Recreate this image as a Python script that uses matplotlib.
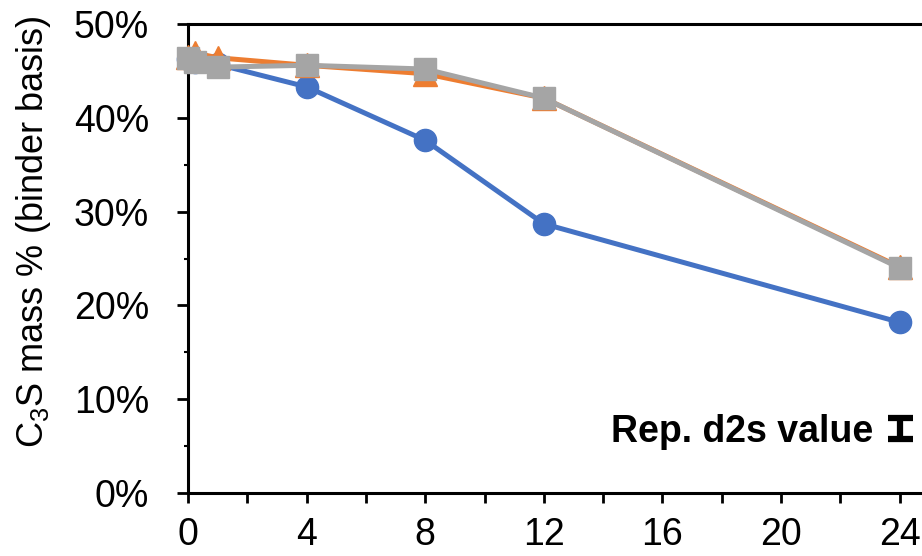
import matplotlib
matplotlib.use("Agg")
import matplotlib.pyplot as plt
from matplotlib.ticker import MultipleLocator, PercentFormatter

plt.rcParams["font.family"] = ["Liberation Sans", "DejaVu Sans"]
plt.rcParams["mathtext.fontset"] = "custom"
plt.rcParams["mathtext.rm"] = "Liberation Sans"
plt.rcParams["mathtext.it"] = "Liberation Sans:italic"

# Hydration time (h) and C3S content (% of binder)
hours = [0, 0.25, 1, 4, 8, 12, 24]
series_blue = [46.3, 46.0, 45.7, 43.3, 37.6, 28.7, 18.2]
series_orange = [46.5, 46.9, 46.4, 45.6, 44.7, 42.1, 24.1]
series_gray = [46.4, 46.0, 45.4, 45.6, 45.2, 42.1, 24.0]

# Representative d2s error bar
d2s_x = 24
d2s_y = 6.9
d2s_err = 1.1

W, H = 922, 556
fig = plt.figure(figsize=(W / 100, H / 100), dpi=100)
left, right, top, bottom = 188, 922, 24, 493
ax = fig.add_axes([left / W, 1 - bottom / H, (right - left) / W, (bottom - top) / H])

lw = 3.6
ax.plot(hours, series_blue, color="#4472C4", lw=lw, marker="o", ms=16,
        clip_on=False, zorder=3)
ax.plot(hours, series_orange, color="#ED7D31", lw=lw, marker="^", ms=17,
        clip_on=False, zorder=4)
ax.plot(hours, series_gray, color="#A5A5A5", lw=lw, marker="s", ms=15.5,
        clip_on=False, zorder=5)

ax.errorbar([d2s_x], [d2s_y], yerr=[d2s_err], fmt="none", ecolor="black",
            elinewidth=4.5, capsize=9, capthick=4.5, clip_on=False, zorder=6)
ax.text(23.1, d2s_y - 0.45, "Rep. d2s value", ha="right", va="center",
        fontsize=27, fontweight="bold")

ax.set_xlim(0, (right - left) / 29.65)
ax.set_ylim(0, 50)
ax.xaxis.set_major_locator(MultipleLocator(4))
ax.xaxis.set_minor_locator(MultipleLocator(2))
ax.yaxis.set_major_locator(MultipleLocator(10))
ax.yaxis.set_minor_locator(MultipleLocator(5))
ax.yaxis.set_major_formatter(PercentFormatter(decimals=0))

for side in ("left", "bottom", "top"):
    ax.spines[side].set_linewidth(2.2)
ax.spines["right"].set_visible(False)

ax.tick_params(axis="x", which="both", direction="out", length=7, width=2,
               labelsize=27, pad=10)
ax.tick_params(axis="y", which="major", direction="out", length=8, width=2,
               labelsize=27, pad=20)
ax.tick_params(axis="y", which="minor", direction="out", length=3, width=1.5)

fig.text(34 / W, 1 - 232 / H, "C$_3$S mass % (binder basis)", rotation=90,
         ha="center", va="center", fontsize=26)

fig.savefig("out.png", dpi=100)
